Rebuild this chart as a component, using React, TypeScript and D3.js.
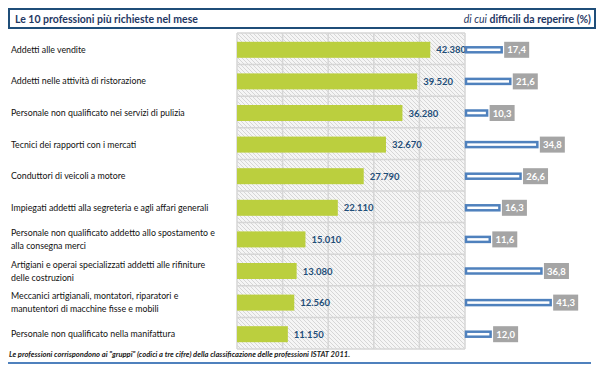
import { useRef, useEffect } from 'react'
import * as d3 from 'd3'

const categories = [
  ['Addetti alle vendite'],
  ['Addetti nelle attività di ristorazione'],
  ['Personale non qualificato nei servizi di pulizia'],
  ['Tecnici dei rapporti con i mercati'],
  ['Conduttori di veicoli a motore'],
  ['Impiegati addetti alla segreteria e agli affari generali'],
  ['Personale non qualificato addetto allo spostamento e', 'alla consegna merci'],
  ['Artigiani e operai specializzati addetti alle rifiniture', 'delle costruzioni'],
  ['Meccanici artigianali, montatori, riparatori e', 'manutentori di macchine fisse e mobili'],
  ['Personale non qualificato nella manifattura'],
]
const hires = [42380, 39520, 36280, 32670, 27790, 22110, 15010, 13080, 12560, 11150]
const hardPct = [17.4, 21.6, 10.3, 34.8, 26.6, 16.3, 11.6, 36.8, 41.3, 12.0]
const xTicks = [0, 10000, 20000, 30000, 40000, 50000]

const W = 600
const H = 368
const FONT = 'Lato, "Noto Sans", sans-serif'

const it = d3.formatLocale({ decimal: ',', thousands: '.', grouping: [3], currency: ['€', ''] })
const fmtInt = it.format(',d')
const fmtPct = it.format('.1f')

export default function App() {
  const svgRef = useRef<SVGSVGElement>(null)

  useEffect(() => {
    if (!svgRef.current) return
    const svg = d3.select(svgRef.current)
    svg.selectAll('*').remove()

    const x = d3.scaleLinear().domain([0, 50000]).range([237, 465])
    const y = d3.scaleBand<number>().domain(d3.range(hires.length)).range([33, 349]).padding(0)
    const xr = d3.scaleLinear().domain([0, 50]).range([467, 569.5])

    // hatch pattern
    const defs = svg.append('defs')
    const pat = defs
      .append('pattern')
      .attr('id', 'hatch')
      .attr('patternUnits', 'userSpaceOnUse')
      .attr('width', 4)
      .attr('height', 4)
    pat.append('rect').attr('width', 4).attr('height', 4).attr('fill', '#f5f5f5')
    pat
      .append('path')
      .attr('d', 'M-1,-1 L5,5 M-1,3 L1,5 M3,-1 L5,1')
      .attr('stroke', '#c8c8c8')
      .attr('stroke-width', 0.7)

    svg.append('rect').attr('width', W).attr('height', H).attr('fill', '#fff')

    // title box
    svg
      .append('rect')
      .attr('x', 9)
      .attr('y', 9)
      .attr('width', 586)
      .attr('height', 19)
      .attr('fill', '#fff')
      .attr('stroke', '#1f4e79')
      .attr('stroke-width', 2)
    svg
      .append('text')
      .attr('x', 15)
      .attr('y', 22.5)
      .attr('font-family', FONT)
      .attr('font-size', 10.5)
      .attr('font-weight', 'bold')
      .attr('fill', '#1f3864')
      .text('Le 10 professioni più richieste nel mese')
    const rt = svg
      .append('text')
      .attr('x', 591)
      .attr('y', 22.5)
      .attr('text-anchor', 'end')
      .attr('font-family', FONT)
      .attr('font-size', 10.5)
      .attr('fill', '#1f3864')
    rt.append('tspan').attr('font-style', 'italic').text('di cui ')
    rt.append('tspan').attr('font-weight', 'bold').text(' difficili da reperire (%)')

    // plot background
    const [x0, x1] = x.range()
    const [y0, y1] = y.range()
    svg
      .append('rect')
      .attr('x', x0)
      .attr('y', y0)
      .attr('width', x1 - x0)
      .attr('height', y1 - y0)
      .attr('fill', 'url(#hatch)')

    // grid
    svg
      .append('g')
      .selectAll('line.v')
      .data(xTicks)
      .join('line')
      .attr('x1', (d) => x(d))
      .attr('x2', (d) => x(d))
      .attr('y1', y0)
      .attr('y2', y1)
      .attr('stroke', '#d6d6d6')
      .attr('stroke-width', 1.5)
    const rowEdges = d3.range(hires.length + 1).map((i) => y0 + i * y.bandwidth())
    svg
      .append('g')
      .selectAll('line')
      .data(rowEdges)
      .join('line')
      .attr('x1', x0)
      .attr('x2', x1)
      .attr('y1', (d) => d)
      .attr('y2', (d) => d)
      .attr('stroke', '#d6d6d6')
      .attr('stroke-width', 1.5)

    const barH = 16
    const cy = (i: number) => (y(i) ?? 0) + y.bandwidth() / 2 + 1

    // main bars
    svg
      .append('g')
      .selectAll('rect')
      .data(hires)
      .join('rect')
      .attr('x', x(0))
      .attr('y', (_, i) => cy(i) - barH / 2)
      .attr('width', (d) => x(d) - x(0))
      .attr('height', barH)
      .attr('fill', '#bbcf3e')

    svg
      .append('g')
      .selectAll('text')
      .data(hires)
      .join('text')
      .attr('x', (d) => x(d) + 6)
      .attr('y', (_, i) => cy(i) + 3.5)
      .attr('font-family', FONT)
      .attr('font-size', 9.5)
      .attr('font-weight', 'bold')
      .attr('fill', '#1f4e79')
      .text((d) => fmtInt(d))

    // category labels
    const lab = svg
      .append('g')
      .selectAll('text')
      .data(categories)
      .join('text')
      .attr('font-family', FONT)
      .attr('font-size', 8.8)
      .attr('fill', '#111')
    lab.each(function (lines, i) {
      const t = d3.select(this)
      const c = cy(i)
      lines.forEach((ln, j) => {
        const off = lines.length === 1 ? 3 : j === 0 ? -3.5 : 9.5
        t.append('tspan').attr('x', 11).attr('y', c + off).text(ln)
      })
    })

    // right bars (difficult to find %)
    const rb = svg.append('g')
    rb.selectAll('rect')
      .data(hardPct)
      .join('rect')
      .attr('x', xr(0) - 1)
      .attr('y', (_, i) => cy(i) - 2.5)
      .attr('width', (d) => xr(d) - xr(0))
      .attr('height', 5)
      .attr('fill', '#fff')
      .attr('stroke', '#4f81bd')
      .attr('stroke-width', 2.5)

    const boxW = 25
    const boxH = 16
    const bx = svg.append('g')
    bx.selectAll('rect')
      .data(hardPct)
      .join('rect')
      .attr('x', (d) => xr(d) + 1.5)
      .attr('y', (_, i) => cy(i) - boxH / 2)
      .attr('width', boxW)
      .attr('height', boxH)
      .attr('fill', '#a5a5a5')
    bx.selectAll('text')
      .data(hardPct)
      .join('text')
      .attr('x', (d) => xr(d) + 1.5 + boxW / 2)
      .attr('y', (_, i) => cy(i) + 3.5)
      .attr('text-anchor', 'middle')
      .attr('font-family', FONT)
      .attr('font-size', 9.5)
      .attr('font-weight', 'bold')
      .attr('fill', '#fff')
      .text((d) => fmtPct(d))

    // footnote
    svg
      .append('text')
      .attr('x', 9)
      .attr('y', 357)
      .attr('font-family', FONT)
      .attr('font-size', 7.6)
      .attr('font-weight', 'bold')
      .attr('font-style', 'italic')
      .attr('fill', '#1a1a1a')
      .text('Le professioni corrispondono ai "gruppi" (codici a tre cifre) della classificazione delle professioni ISTAT 2011.')

    svg
      .append('line')
      .attr('x1', 8)
      .attr('x2', 591)
      .attr('y1', 363)
      .attr('y2', 363)
      .attr('stroke', '#4f81bd')
      .attr('stroke-width', 2)
  }, [])

  return (
    <svg
      ref={svgRef}
      width={W}
      height={H}
      style={{ position: 'absolute', left: 0, top: 0, display: 'block' }}
    />
  )
}
